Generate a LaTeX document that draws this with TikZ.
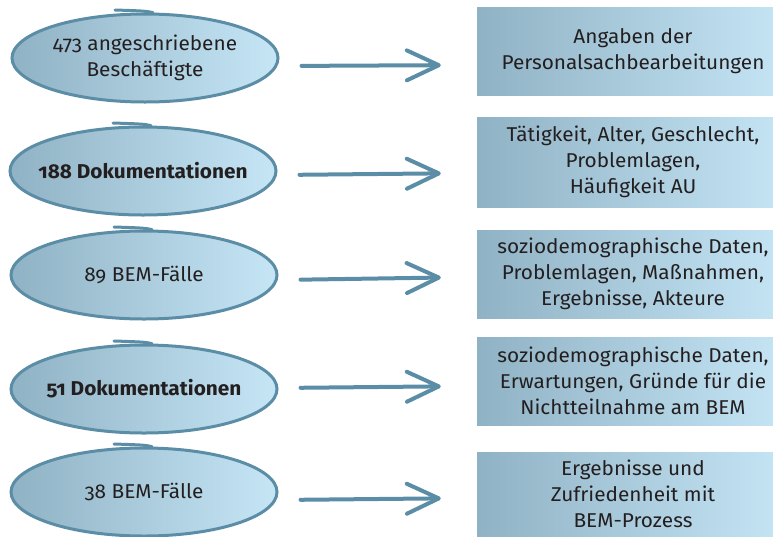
\documentclass[tikz,border=0pt]{standalone}
\usepackage{fontspec}
\setmainfont{Fira Sans}[Numbers=OldStyle,FakeStretch=1.04]
\usetikzlibrary{shapes}
\usetikzlibrary{arrows.meta}
\definecolor{rand}{HTML}{5B8EA6}
\definecolor{hell}{HTML}{C6E6F6}
\definecolor{dunkel}{HTML}{8FB2C4}
\definecolor{schrift}{HTML}{231F20}

\begin{document}
\begin{tikzpicture}[x=1pt,y=-1pt]
				\tikzstyle{every node}=[text=schrift,font=\fontsize{20}{26}\selectfont,align=center]
				\tikzstyle{zahl}=[ellipse,draw=rand,line width=3pt,left color=dunkel,right color=hell,minimum width=266pt,minimum height=88pt,inner xsep=-40pt,inner ysep=0pt]
				\tikzstyle{schwung}=[draw=rand,line width=3pt,line cap=round]
				\tikzstyle{angabe}=[rectangle,left color=dunkel,right color=hell,minimum width=312pt,inner sep=0pt]
				\tikzstyle{pfeil}=[draw=rand,line width=4pt,line cap=round,-{Straight Barb[length=32pt,width=30pt,round]},shorten <=22pt,shorten >=36pt]
				
				\useasboundingbox (0,0) rectangle (773,536);
				
				\node[zahl] (e1) at (145,58) {473 angeschriebene\\Beschäftigte};
				\node[zahl] (e2) at (143,171) {\bfseries 188 Dokumentationen};
				\node[zahl] (e3) at (144,275) {89 BEM-Fälle};
				\node[zahl] (e4) at (144,389) {\bfseries 51 Dokumentationen};
				\node[zahl] (e5) at (144,492) {38 BEM-Fälle};
				
				\draw[schwung] ([xshift=-30pt,yshift=2.5pt]e1.north) .. controls ([yshift=1.5pt]e1.north) .. (e1.80);
				\draw[schwung] ([xshift=-30pt,yshift=2.5pt]e2.north) .. controls ([yshift=1.5pt]e2.north) .. (e2.80);
				\draw[schwung] ([xshift=-30pt,yshift=2.5pt]e3.north) .. controls ([yshift=1.5pt]e3.north) .. (e3.80);
				\draw[schwung] ([xshift=-30pt,yshift=2.5pt]e4.north) .. controls ([yshift=1.5pt]e4.north) .. (e4.80);
				\draw[schwung] ([xshift=-30pt,yshift=2.5pt]e5.north) .. controls ([yshift=1.5pt]e5.north) .. (e5.80);
				
				\node[angabe,minimum height=88pt] (k1) at (633,51) {Angaben der\\Personalsachbearbeitungen};
				\node[angabe,minimum height=90pt] (k2) at (633,162) {Tätigkeit, Alter, Geschlecht,\\Problemlagen,\\Häufigkeit AU};
				\node[angabe,minimum height=88pt] (k3) at (633,274) {soziodemographische Daten,\\Problemlagen, Maßnahmen,\\Ergebnisse, Akteure};
				\node[angabe,minimum height=88pt] (k4) at (633,381) {soziodemographische Daten,\\Erwartungen, Gründe für die\\Nichtteilnahme am BEM};
				\node[angabe,minimum height=84pt] (k5) at (633,494) {Ergebnisse und\\Zufriedenheit mit\\BEM-Prozess};
				
				\draw[pfeil] ([yshift=-8pt]e1.east) -- ([yshift=-14pt]k1.west);
				\draw[pfeil] ([yshift=-4pt]e2.east) -- ([yshift=-11pt]k2.west);
				\draw[pfeil] ([yshift=-5pt]e3.east) -- ([yshift=-3pt]k3.west);
				\draw[pfeil] ([yshift=1pt]e4.east) -- ([yshift=-5pt]k4.west);
				\draw[pfeil] ([yshift=-8pt]e5.east) -- ([yshift=-4pt]k5.west);
\end{tikzpicture}
\end{document}
